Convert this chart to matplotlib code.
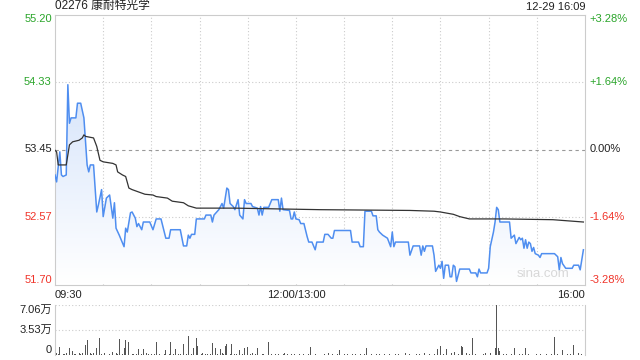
import numpy as np
import matplotlib
matplotlib.use("Agg")
import matplotlib.pyplot as plt
from matplotlib.patches import Polygon

plt.rcParams['font.family'] = ['Liberation Sans', 'Noto Sans CJK SC', 'DejaVu Sans']

title = "02276 康耐特光学"
stamp = "12-29 16:09"
prev_close = 53.45

# minutes since 09:30 (lunch break removed, 12:00/13:00 = 150)
price_t = [0, 1, 3, 4, 5, 7, 8, 9, 10, 13, 14, 16, 18, 20, 21, 22, 24, 26, 27, 29,
           30, 32, 34, 36, 37, 38, 40, 43, 44, 45, 47, 48, 50, 51, 52, 54, 55, 59, 61, 63,
           66, 69, 71, 72, 78, 80, 82, 83, 84, 85, 87, 88, 93, 94, 97, 98, 99, 102, 104, 105,
           107, 108, 109, 111, 112, 114, 115, 117, 118, 119, 122, 123, 126, 127, 128, 129, 130, 133, 135, 139,
           140, 141, 142, 146, 147, 148, 149, 150, 152, 153, 155, 157, 158, 160, 162, 163, 167, 168, 170, 172,
           173, 174, 184, 185, 189, 190, 192, 193, 197, 198, 200, 201, 202, 204, 207, 209, 210, 211, 212, 220,
           221, 223, 224, 227, 228, 229, 230, 231, 235, 236, 237, 239, 240, 241, 242, 243, 245, 246, 247, 248,
           249, 250, 252, 258, 259, 262, 263, 264, 265, 269, 270, 271, 273, 274, 275, 276, 277, 283, 284, 285,
           286, 287, 289, 290, 291, 292, 293, 294, 295, 296, 297, 298, 299, 301, 302, 303, 311, 313, 314, 315,
           316, 318, 322, 323, 326, 327, 329]
price = [53.12, 53.03, 53.42, 53.12, 53.10, 53.12, 54.29, 53.79, 53.86, 53.86, 54.05, 54.05, 53.86, 53.25, 53.16, 53.25, 53.25, 52.64, 52.73, 52.93,
         52.58, 52.82, 52.86, 52.56, 52.76, 52.43, 52.34, 52.19, 52.43, 52.38, 52.63, 52.64, 52.56, 52.45, 52.49, 52.41, 52.51, 52.51, 52.41, 52.55,
         52.55, 52.30, 52.30, 52.41, 52.41, 52.20, 52.20, 52.34, 52.30, 52.35, 52.35, 52.55, 52.55, 52.60, 52.60, 52.51, 52.60, 52.67, 52.75, 52.69,
         52.95, 52.93, 52.75, 52.71, 52.67, 52.80, 52.60, 52.55, 52.80, 52.75, 52.75, 52.71, 52.69, 52.60, 52.71, 52.60, 52.70, 52.70, 52.80, 52.80,
         52.65, 52.82, 52.67, 52.66, 52.55, 52.55, 52.64, 52.55, 52.54, 52.49, 52.49, 52.32, 52.25, 52.25, 52.15, 52.25, 52.25, 52.35, 52.35, 52.30,
         52.30, 52.40, 52.40, 52.25, 52.25, 52.19, 52.19, 52.65, 52.65, 52.59, 52.59, 52.41, 52.38, 52.34, 52.30, 52.19, 52.38, 52.19, 52.25, 52.25,
         52.08, 52.20, 52.20, 52.20, 52.08, 52.20, 52.13, 52.20, 52.20, 52.08, 51.87, 51.95, 51.91, 52.00, 51.78, 51.95, 51.95, 51.80, 51.80, 51.95,
         51.93, 51.74, 51.90, 51.90, 51.85, 51.85, 51.80, 51.90, 51.85, 51.85, 51.91, 52.19, 52.38, 52.51, 52.70, 52.67, 52.51, 52.51, 52.30, 52.32,
         52.34, 52.23, 52.31, 52.28, 52.30, 52.17, 52.28, 52.17, 52.25, 52.23, 52.13, 52.18, 52.10, 52.08, 52.05, 52.10, 52.10, 52.06, 51.89, 52.05,
         51.97, 51.91, 51.91, 51.95, 51.95, 51.89, 52.15]

avg_t = [0, 1, 2, 7, 9, 11, 15, 17, 18, 19, 24, 26, 28, 30, 36, 38, 39, 42, 44, 46,
         48, 52, 56, 61, 63, 70, 73, 80, 83, 88, 112, 165, 221, 236, 240, 248, 252, 258, 280, 310, 329]
avg = [53.44, 53.42, 53.25, 53.25, 53.51, 53.55, 53.57, 53.60, 53.64, 53.62, 53.60, 53.49, 53.31, 53.29, 53.27, 53.25, 53.16, 53.12, 53.10, 52.95,
       52.93, 52.90, 52.87, 52.86, 52.84, 52.82, 52.78, 52.76, 52.72, 52.69, 52.69, 52.67, 52.66, 52.65, 52.64, 52.61, 52.58, 52.55, 52.55, 52.54, 52.51]

vol_t = [3, 9, 11, 19, 20, 26, 28, 40, 43, 44, 46, 52, 55, 63, 69, 72, 75, 80, 83, 86,
         88, 89, 98, 100, 103, 106, 107, 110, 115, 118, 120, 126, 133, 159, 177, 194, 238, 240, 244, 253,
         254, 260, 274, 275, 276, 277, 286, 293, 311, 316, 323, 330]
vol = [11900, 10000, 5700, 14300, 21400, 10000, 24200, 22800, 10000, 21400, 18100, 8600, 8600, 18500, 7100, 18500, 8600, 15700, 27100, 10000,
       24200, 12800, 17100, 10000, 8600, 12800, 15700, 15700, 7100, 10000, 11400, 10000, 18500, 11400, 7100, 10000, 8600, 12800, 8600, 12800,
       11000, 24200, 10000, 70600, 10000, 5000, 10000, 10000, 25700, 7100, 14300, 18500]

# small trades along the baseline
small_t = [1, 5, 7, 13, 15, 17, 22, 24, 31, 34, 36, 38, 49, 57, 60, 66, 78, 92, 95, 104,
           112, 123, 130, 137, 143, 147, 152, 165, 170, 182, 187, 200, 205, 212, 218, 225, 230, 247, 249, 256,
           264, 268, 271, 281, 289, 297, 302, 306, 319, 326,
           2, 6, 12, 16, 23, 29, 33, 39, 42, 48, 51, 54, 58, 62, 65, 68, 71, 74, 77, 82,
           85, 91, 94, 97, 101, 105, 109, 113, 117, 122, 125, 129, 132, 135, 139, 142, 145, 149, 155, 158,
           162, 168, 173, 176, 180, 185, 190, 193, 197, 202, 208, 214, 221, 227, 233, 236, 242, 251, 258, 262,
           267, 279, 284, 291, 295, 300, 309, 313, 321, 328]
small_vol = [2800, 2100, 3500, 1800, 2500, 2900, 3100, 2200, 2600, 1700, 4200, 2300, 2000, 2700, 1900, 2400, 2100, 3000, 1800, 2200,
             1600, 2500, 2000, 1800, 2300, 1500, 1700, 1400, 2300, 1600, 1800, 1500, 2100, 1700, 2600, 1900, 2200, 3500, 4200, 2700,
             1600, 2900, 3100, 2000, 1800, 2400, 2100, 1700, 1900, 2300,
             1200, 1500, 1100, 1400, 1600, 1300, 1500, 1200, 1700, 1100, 1400, 1300, 1600, 1200, 1500, 1100, 1300, 1400, 1200, 1600,
             1300, 1100, 1500, 1200, 1400, 1300, 1100, 1500, 1200, 1400, 1600, 1100, 1300, 1200, 1500, 1100, 1400, 1200, 1300, 1100,
             1200, 1000, 1300, 1100, 1200, 1400, 1000, 1200, 1100, 1300, 1000, 1200, 1100, 1400, 1200, 1000, 1500, 1300, 1100, 1200,
             1000, 1100, 1300, 1200, 1000, 1100, 1200, 1000, 1300, 1100]

y_ticks = [55.20, 54.33, 53.45, 52.57, 51.70]
pct_labels = ["+3.28%", "+1.64%", "0.00%", "-1.64%", "-3.28%"]
vol_ticks = [70600, 35300, 0]
vol_labels = ["7.06万", "3.53万", "0"]

green = "#2aa52a"
red = "#f0342a"
grid_c = "#cccccc"
tcol = [green, green, "#222222", red, red]

fig = plt.figure(figsize=(6.4, 3.6), dpi=100)
ax = fig.add_axes([55/640, 1 - 284.5/360, 530/640, 270/360])
axv = fig.add_axes([55/640, 1 - 355/360, 530/640, 50/360])

# main price panel
ax.set_xlim(0, 330)
ax.set_ylim(51.70, 55.20)
for x in range(30, 330, 30):
    ax.axvline(x, color=grid_c, lw=0.8, ls=(0, (1, 2)), zorder=0)
for yv in y_ticks[1:-1]:
    if yv == prev_close:
        ax.axhline(yv, color="#999999", lw=0.8, ls=(0, (3, 3)), zorder=0)
    else:
        ax.axhline(yv, color=grid_c, lw=0.8, ls=(0, (1, 2)), zorder=0)

poly = Polygon(list(zip(price_t, price)) + [(price_t[-1], 51.70), (price_t[0], 51.70)],
               closed=True, facecolor="none", edgecolor="none")
ax.add_patch(poly)
grad = np.linspace(1, 0, 100).reshape(-1, 1)
cmap = matplotlib.colors.LinearSegmentedColormap.from_list("g", ["#ffffff", "#d6e4fb"])
im = ax.imshow(grad, extent=[0, 330, 51.70, 54.33], aspect="auto", cmap=cmap, zorder=1)
im.set_clip_path(poly)

ax.plot(price_t, price, color="#4f8ef0", lw=1.1, zorder=3)
ax.plot(avg_t, avg, color="#333333", lw=0.9, zorder=4)

ax.set_xticks([])
ax.set_yticks([])
for s in ax.spines.values():
    s.set_color(grid_c)

for yv, lab, c, va in zip(y_ticks, [f"{v:.2f}" for v in y_ticks], tcol,
                          ["top", "center", "center", "center", "bottom"]):
    ax.text(-0.006, yv, lab, transform=ax.get_yaxis_transform(), ha="right", va=va,
            color=c, fontsize=8)
for yv, lab, c, va in zip(y_ticks, pct_labels, tcol,
                          ["top", "center", "center", "center", "bottom"]):
    ax.text(1.008, yv, lab, transform=ax.get_yaxis_transform(), ha="left", va=va,
            color=c, fontsize=8)

ax.text(0, 1.008, title, transform=ax.transAxes, ha="left", va="bottom", fontsize=8.5, color="#222222")
ax.text(1, 1.008, stamp, transform=ax.transAxes, ha="right", va="bottom", fontsize=8, color="#222222")
ax.text(0, -0.022, "09:30", transform=ax.transAxes, ha="left", va="top", fontsize=8, color="#222222")
ax.text(150/330, -0.022, "12:00/13:00", transform=ax.transAxes, ha="center", va="top", fontsize=8, color="#222222")
ax.text(1, -0.022, "16:00", transform=ax.transAxes, ha="right", va="top", fontsize=8, color="#222222")
ax.text(0.97, 0.015, "sina.com", transform=ax.transAxes, ha="right", va="bottom", fontsize=9.5, color="#d8d8d8")

# volume panel
axv.set_xlim(0, 330)
axv.set_ylim(0, 70600)
axv.bar(small_t, small_vol, width=0.6, color="#555555", zorder=2)
axv.bar(vol_t, vol, width=0.6, color="#555555", zorder=2)
for yv in vol_ticks[:2]:
    axv.axhline(yv, color=grid_c, lw=0.8, ls=(0, (1, 2)), zorder=0)
axv.set_xticks([])
axv.set_yticks([])
axv.spines["top"].set_visible(False)
axv.spines["bottom"].set_visible(False)
for s in ("left", "right"):
    axv.spines[s].set_color(grid_c)
for yv, lab, va in zip(vol_ticks, vol_labels, ["top", "center", "bottom"]):
    axv.text(-0.006, yv, lab, transform=axv.get_yaxis_transform(), ha="right", va=va,
             color="#222222", fontsize=8)

fig.savefig("out.png", dpi=100)
